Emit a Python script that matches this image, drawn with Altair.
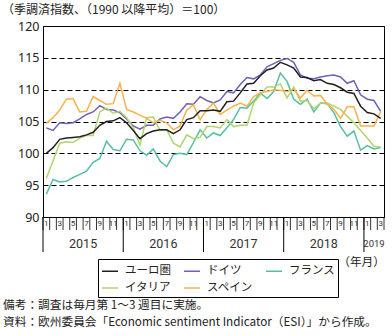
import altair as alt
import pandas as pd

series_names = ["ユーロ圏", "ドイツ", "フランス", "イタリア", "スペイン"]
colors = ["#231f20", "#6e62b6", "#55bfa0", "#b0d56c", "#f7b24c"]

euro = [100.0, 100.9, 102.2, 102.4, 102.5, 102.6, 102.9, 103.3, 104.4, 105.0, 105.1, 105.6,
        104.8, 103.6, 102.3, 103.1, 103.5, 103.7, 103.7, 103.1, 103.7, 105.3, 105.6, 106.7,
        106.7, 106.8, 106.6, 108.1, 108.2, 109.5, 110.9, 111.0, 112.2, 113.1, 113.4, 114.3,
        113.9, 113.4, 112.0, 111.9, 111.4, 111.6, 111.0, 110.8, 110.3, 109.6, 109.4, 107.4,
        106.4, 106.2, 105.5]
germany = [104.0, 103.6, 104.8, 104.7, 104.8, 105.4, 106.1, 106.5, 107.5, 106.9, 106.8, 106.4,
           105.4, 104.3, 103.8, 104.4, 104.4, 105.4, 105.7, 105.5, 106.5, 107.8, 107.7, 108.9,
           108.3, 107.9, 108.4, 109.7, 109.5, 110.8, 111.9, 111.7, 112.3, 113.6, 114.1, 114.6,
           114.9, 114.3, 112.3, 111.8, 111.7, 112.0, 112.2, 112.3, 112.0, 111.0, 111.4, 109.2,
           108.5, 108.3, 106.6]
france = [93.6, 95.9, 95.5, 95.6, 96.2, 96.7, 97.2, 98.6, 99.2, 101.9, 100.6, 100.4,
          102.2, 102.1, 100.4, 99.7, 100.7, 98.8, 97.9, 99.8, 100.0, 99.8, 101.7, 103.7,
          102.4, 103.2, 102.8, 104.0, 105.3, 107.2, 107.1, 108.2, 109.5, 108.6, 109.7, 112.6,
          111.3, 108.5, 107.7, 108.5, 106.5, 107.9, 107.8, 106.4, 104.2, 102.7, 103.5, 100.5,
          101.2, 100.7, 100.9]
italy = [96.1, 98.8, 101.6, 101.8, 101.7, 102.4, 102.8, 102.8, 106.5, 107.1, 106.3, 106.6,
         105.6, 104.0, 101.3, 105.6, 105.7, 103.6, 103.7, 101.6, 101.0, 102.9, 102.3, 102.5,
         104.2, 104.2, 104.0, 105.3, 104.2, 104.4, 104.4, 107.9, 109.2, 110.4, 110.4, 110.9,
         108.7, 110.4, 108.2, 108.3, 107.0, 107.9, 107.9, 107.4, 106.9, 105.8, 104.8, 103.6,
         102.4, 101.1, 101.0]
spain = [104.7, 105.6, 106.8, 108.5, 108.6, 106.5, 106.6, 108.9, 108.3, 107.7, 107.8, 111.0,
         106.9, 106.5, 106.0, 105.5, 104.8, 105.2, 104.8, 103.7, 104.3, 106.8, 107.6, 105.3,
         106.9, 107.9, 106.1, 106.8, 107.4, 107.9, 107.4, 108.9, 109.5, 109.7, 110.0, 109.9,
         109.7, 110.1, 108.7, 109.9, 109.0, 109.1, 107.7, 106.9, 105.5, 107.3, 107.3, 104.3,
         104.3, 104.3, 106.6]

month_labels = ["1", "", "3", "", "5", "", "7", "", "9", "", "11", ""] * 4 + ["1", "", "3"]
years = ["2015", "2016", "2017", "2018", "2019"]
year_start = [0, 12, 24, 36, 48]
year_end = [12, 24, 36, 48, 51]
y_ticks = [90, 95, 100, 105, 110, 115, 120]

title_text = "（季調済指数、（1990 以降平均）＝100）"
note1 = "備考：調査は毎月第 1～3 週目に実施。"
note2 = "資料：欧州委員会「Economic sentiment Indicator（ESI）」から作成。"
unit_text = "（年月）"

JP = "Noto Sans CJK JP"
NUM = "Noto Sans"
N_MONTHS = len(euro)

rows = []
# Euro area drawn last so it sits on top
for name, vals in [("ドイツ", germany), ("フランス", france), ("イタリア", italy),
                   ("スペイン", spain), ("ユーロ圏", euro)]:
    for i, v in enumerate(vals):
        rows.append({"t": i + 0.5, "v": v, "s": name})
df = pd.DataFrame(rows)

xscale = alt.Scale(domain=[0, N_MONTHS], nice=False, zero=False)
yscale = alt.Scale(domain=[90, 120], nice=False, zero=False)

lines = alt.Chart(df).mark_line(strokeWidth=1.5).encode(
    x=alt.X("t:Q", scale=xscale, axis=None),
    y=alt.Y("v:Q", scale=yscale,
            axis=alt.Axis(values=y_ticks, grid=True, gridDash=[5, 3], gridColor="black",
                          gridWidth=1, ticks=False, domain=False, labelFontSize=12.5,
                          labelFont=NUM, labelColor="#222", labelPadding=4, title=None)),
    color=alt.Color("s:N", scale=alt.Scale(domain=series_names, range=colors),
                    legend=alt.Legend(title=None, orient="none", legendX=55, legendY=233,
                                      columns=3, direction="horizontal", symbolType="stroke",
                                      symbolSize=256, symbolStrokeWidth=1.5,
                                      labelFont=JP, labelFontSize=11.5, labelColor="#222",
                                      labelOffset=6, strokeColor="black", padding=3,
                                      columnPadding=10, rowPadding=2)),
    detail="s:N",
)

# month boundary ticks
bdf = pd.DataFrame({"b": list(range(N_MONTHS + 1))})
month_ticks = alt.Chart(bdf).mark_rule(color="black", strokeWidth=0.8).encode(
    x=alt.X("b:Q", scale=xscale, axis=None), y=alt.value(191), y2=alt.value(204))

mdf = pd.DataFrame({"t": [i + 0.5 for i in range(N_MONTHS)], "lab": month_labels})
mdf = mdf[mdf["lab"] != ""]
month_text = alt.Chart(mdf).mark_text(
    font="Roboto", fontSize=8, color="#333", baseline="middle", align="center"
).encode(x=alt.X("t:Q", scale=xscale, axis=None), y=alt.value(198), text="lab:N")

ydf = pd.DataFrame({"ys": year_start, "ye": year_end, "yr": years})
ydf["yc"] = (ydf["ys"] + ydf["ye"]) / 2
year_text_main = alt.Chart(ydf.iloc[:4]).mark_text(
    font="Roboto", fontSize=12.5, color="#333", baseline="middle", align="center"
).encode(x=alt.X("yc:Q", scale=xscale, axis=None), y=alt.value(217.5), text="yr:N")
year_text_last = alt.Chart(ydf.iloc[4:]).mark_text(
    font="Roboto", fontSize=9.5, color="#333", baseline="middle", align="center"
).encode(x=alt.X("yc:Q", scale=xscale, axis=None), y=alt.value(217.5), text="yr:N")
year_rules = alt.Chart(ydf).mark_rule(color="black", strokeWidth=1).encode(
    x=alt.X("ys:Q", scale=xscale, axis=None), y=alt.value(191), y2=alt.value(226))


def label(text, x, y, align="left", size=11.7):
    return alt.Chart(pd.DataFrame({"txt": [text]})).mark_text(
        font=JP, fontSize=size, color="#222", align=align, baseline="middle"
    ).encode(x=alt.value(x), y=alt.value(y), text="txt:N")


chart = alt.layer(
    lines, month_ticks, year_rules, month_text, year_text_main, year_text_last,
    label(title_text, -41, -16, size=12),
    label(unit_text, 342, 236, align="right"),
    label(note1, -40, 278.5),
    label(note2, -40, 296),
).properties(
    width=341, height=191,
    autosize=alt.AutoSizeParams(type="none"),
    padding={"left": 43, "top": 26, "right": 8, "bottom": 119},
    background="white",
).configure_view(stroke="black", strokeWidth=1)

chart.save("out.html", embed_options={"renderer": "svg", "actions": False})
